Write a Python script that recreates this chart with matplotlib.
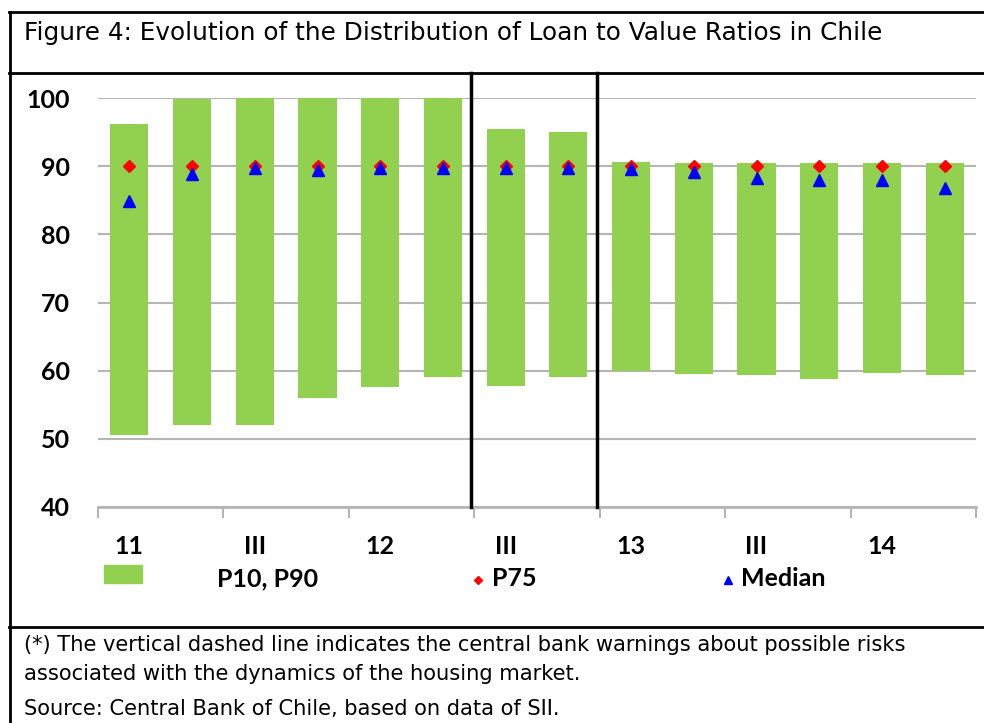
import matplotlib
matplotlib.use("Agg")
import matplotlib.pyplot as plt
from matplotlib.lines import Line2D
from matplotlib.patches import Rectangle

# ---- data ----
periods = ["11", "", "III", "", "12", "", "III", "", "13", "", "III", "", "14", ""]
p10 = [50.5, 52.0, 52.0, 56.0, 57.6, 59.1, 57.7, 59.1, 59.9, 59.5, 59.3, 58.8, 59.6, 59.3]
p90 = [96.2, 99.8, 100.0, 100.0, 100.0, 100.0, 95.4, 95.0, 90.6, 90.5, 90.5, 90.5, 90.5, 90.5]
p75 = [90, 90, 90, 90, 90, 90, 90, 90, 90, 90, 90, 90, 90, 90]
median = [84.9, 88.9, 89.7, 89.5, 89.8, 89.8, 89.7, 89.8, 89.6, 89.1, 88.2, 87.9, 87.9, 86.8]
warning_positions = [5.45, 7.45]
y_ticks = [40, 50, 60, 70, 80, 90, 100]

GREEN = "#92D050"
GRID = "#b5b5b5"
W, H = 984, 723

fig = plt.figure(figsize=(W / 100, H / 100), dpi=100)

def fx(px):
    return px / W

def fy(py):
    return 1 - py / H

ax = fig.add_axes([fx(98), fy(507), fx(976) - fx(98), fy(98) - fy(507)])
x = list(range(len(periods)))
heights = [t - b for t, b in zip(p90, p10)]
ax.bar(x, heights, bottom=p10, width=0.61, color=GREEN, zorder=2)
ax.plot(x, p75, linestyle="none", marker="D", ms=5.8, color="#FF0000", zorder=3)
ax.plot(x, median, linestyle="none", marker="^", ms=8.5, color="#0000FF", zorder=4)

ax.set_xlim(-0.5, len(periods) - 0.5)
ax.set_ylim(40, 100)
ax.set_yticks(y_ticks)
ax.yaxis.grid(True, color=GRID, linewidth=1.5, zorder=0)
ax.set_axisbelow(True)
for s in ["left", "right", "top"]:
    ax.spines[s].set_visible(False)
ax.spines["bottom"].set_color(GRID)
ax.spines["bottom"].set_linewidth(2)
ax.tick_params(axis="y", length=0, pad=20)
ax.set_xticks([i - 0.5 for i in range(0, len(periods) + 1, 2)])
ax.set_xticklabels([])
ax.tick_params(axis="x", length=8, width=1.5, color=GRID, direction="out")

lab_font = dict(family="Lato", weight="bold", size=18)
for lbl in ax.get_yticklabels():
    lbl.set_fontfamily("Lato")
    lbl.set_fontweight("bold")
    lbl.set_fontsize(18)
for i, p in enumerate(periods):
    if p:
        ax.text(i, -0.097, p, transform=ax.get_xaxis_transform(), ha="center", va="center", **lab_font)

# warning lines
for xp in warning_positions:
    ax.plot([xp, xp], [0, 1 + 25 / 409], transform=ax.get_xaxis_transform(),
            color="black", linewidth=2.5, clip_on=False, zorder=5)

# legend (figure-level)
fig.patches.append(Rectangle((fx(104), fy(583)), fx(38), fy(565) - fy(583), transform=fig.transFigure,
                             color=GREEN, figure=fig))
fig.text(fx(217), fy(586), "P10, P90", ha="left", va="baseline", **lab_font)
fig.lines.append(Line2D([fx(478)], [fy(580)], marker="D", ms=4.5, color="#FF0000", linestyle="none",
                        transform=fig.transFigure, figure=fig))
fig.text(fx(492), fy(586), "P75", ha="left", va="baseline", **lab_font)
fig.lines.append(Line2D([fx(728)], [fy(580)], marker="^", ms=6, color="#0000FF", linestyle="none",
                        transform=fig.transFigure, figure=fig))
fig.text(fx(741), fy(586), "Median", ha="left", va="baseline", **lab_font)

# frame lines
def hline(py, x0=9, x1=984, lw=2):
    fig.lines.append(Line2D([fx(x0), fx(x1)], [fy(py), fy(py)], color="black", linewidth=lw,
                            transform=fig.transFigure, figure=fig))

hline(12)
hline(73)
hline(627)
fig.lines.append(Line2D([fx(10), fx(10)], [fy(12), fy(723)], color="black", linewidth=2,
                        transform=fig.transFigure, figure=fig))

# texts
txt_font = dict(family="DejaVu Sans", ha="left", va="center")
fig.text(fx(24), fy(33), "Figure 4: Evolution of the Distribution of Loan to Value Ratios in Chile",
         size=17.8, **txt_font)
fig.text(fx(24), fy(645), "(*) The vertical dashed line indicates the central bank warnings about possible risks",
         size=15.1, **txt_font)
fig.text(fx(24), fy(674), "associated with the dynamics of the housing market.",
         size=15.1, **txt_font)
fig.text(fx(24), fy(709), "Source: Central Bank of Chile, based on data of SII.",
         size=15.1, **txt_font)

fig.savefig("out.png", dpi=100)
